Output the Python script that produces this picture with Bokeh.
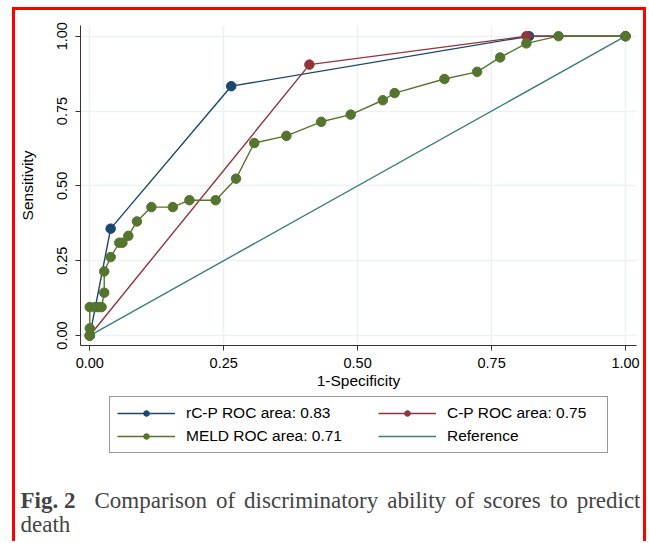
from bokeh.plotting import figure
from bokeh.models import Legend, LegendItem, Label, FixedTicker, Range1d, Div
from bokeh.layouts import row, column
from bokeh.embed import file_html
from bokeh.resources import INLINE

# ---------------- data ----------------
series_names = ["rC-P", "C-P", "MELD"]
series_auc = [0.83, 0.75, 0.71]

rcp_x = [0.0, 0.039, 0.264, 0.820, 1.0]
rcp_y = [0.0, 0.357, 0.833, 1.0, 1.0]

cp_x = [0.0, 0.410, 0.815, 1.0]
cp_y = [0.0, 0.905, 1.0, 1.0]

meld_x = [0.0, 0.0, 0.0, 0.010, 0.016, 0.022, 0.027, 0.027, 0.039, 0.055,
          0.061, 0.072, 0.088, 0.115, 0.155, 0.186, 0.235, 0.273, 0.307, 0.367,
          0.432, 0.487, 0.547, 0.569, 0.662, 0.723, 0.766, 0.815, 0.875, 1.0]
meld_y = [0.0, 0.024, 0.095, 0.095, 0.095, 0.095, 0.143, 0.214, 0.262, 0.310,
          0.310, 0.333, 0.381, 0.429, 0.429, 0.452, 0.452, 0.524, 0.643, 0.667,
          0.714, 0.738, 0.786, 0.810, 0.857, 0.881, 0.929, 0.976, 1.0, 1.0]

ref_x = [0.0, 1.0]
ref_y = [0.0, 1.0]

tick_values = [0.0, 0.25, 0.5, 0.75, 1.0]
tick_labels = ["0.00", "0.25", "0.50", "0.75", "1.00"]

x_title = "1-Specificity"
y_title = "Sensitivity"
ref_name = "Reference"

caption_bold = "Fig. 2"
caption_line1 = ["Comparison", "of", "discriminatory", "ability", "of", "scores", "to", "predict"]
caption_line2 = "death"

# ---------------- style ----------------
NAVY = "#1a476f"
MAROON = "#90353b"
GREEN = "#55752f"
TEAL = "#3a7f7c"
GRID = "#eaf2f3"
AXIS = "#333333"
SANS = "Liberation Sans"
SERIF = "Liberation Serif"
NAN = float("nan")

# page layout (px)
LEFT0, TOP0 = 12, 7          # red frame outer corner
BAR = 3                      # red frame thickness
INNER_W = 628                # width between red side bars
H1 = 386                     # plot figure height
H2 = 145                     # legend + caption figure height

# ---------------- main plot ----------------
p = figure(width=INNER_W, height=H1,
           x_range=Range1d(-0.0173, 1.0205), y_range=Range1d(-0.0333, 1.0357),
           output_backend="svg", toolbar_location=None,
           min_border_left=64, min_border_right=7, min_border_top=15,
           min_border_bottom=H1 - 15 - 320,
           background_fill_color="white", border_fill_color="white")
p.outline_line_color = None
p.frame_align = False

for ax in (p.xaxis[0], p.yaxis[0]):
    ax.ticker = FixedTicker(ticks=tick_values)
    ax.major_label_overrides = {v: s for v, s in zip(tick_values, tick_labels)}
    ax.minor_tick_line_color = None
    ax.major_tick_in = 0
    ax.major_tick_out = 5
    ax.axis_line_color = AXIS
    ax.major_tick_line_color = AXIS
    ax.major_label_text_font = SANS
    ax.major_label_text_font_size = "14.5px"
    ax.major_label_text_color = "black"
    ax.axis_label_text_font = SANS
    ax.axis_label_text_font_size = "15.5px"
    ax.axis_label_text_font_style = "normal"
    ax.axis_label_text_color = "black"

p.xaxis.axis_label = x_title
p.yaxis.axis_label = y_title
p.xaxis.major_label_standoff = 7
p.xaxis.axis_label_standoff = 1
p.yaxis.major_label_standoff = 8
p.yaxis.axis_label_standoff = 19
p.yaxis.major_label_orientation = "vertical"

for g in (p.xgrid[0], p.ygrid[0]):
    g.ticker = FixedTicker(ticks=tick_values)
    g.grid_line_color = GRID
    g.grid_line_width = 1.5

p.line(ref_x, ref_y, line_color=TEAL, line_width=1.4)
p.line(rcp_x, rcp_y, line_color=NAVY, line_width=1.4)
p.scatter(rcp_x, rcp_y, size=9.5, fill_color=NAVY, line_color=NAVY)
p.line(cp_x, cp_y, line_color=MAROON, line_width=1.4)
p.scatter(cp_x, cp_y, size=9.5, fill_color=MAROON, line_color=MAROON)
p.line(meld_x, meld_y, line_color=GREEN, line_width=1.4)
p.scatter(meld_x, meld_y, size=9.5, fill_color=GREEN, line_color=GREEN)

# ---------------- legend + caption panel ----------------
q = figure(width=INNER_W, height=H2, x_range=Range1d(0, 1), y_range=Range1d(0, 1),
           output_backend="svg", toolbar_location=None,
           x_axis_location=None, y_axis_location=None,
           min_border=0, min_border_left=0, min_border_right=0,
           min_border_top=0, min_border_bottom=0,
           background_fill_color="white", border_fill_color="white")
q.outline_line_color = None
q.frame_align = False
q.grid.visible = False

def proxy(color, marker=True):
    # legend-only key glyphs (NaN data: nothing is drawn in the panel itself)
    rs = [q.line(x=[NAN], y=[NAN], line_color=color, line_width=1.4)]
    if marker:
        rs.append(q.scatter(x=[NAN], y=[NAN], size=7, fill_color=color, line_color=color))
    return rs

labels = [f"{n} ROC area: {a:.2f}" for n, a in zip(series_names, series_auc)]

PAD = 7
common = dict(glyph_width=58, glyph_height=14, label_standoff=11, padding=PAD, spacing=5,
              margin=0, label_height=18, label_text_font=SANS, label_text_font_size="15.5px",
              label_text_color="black")

QB = TOP0 + BAR + H1 + H2     # page y of q's bottom edge
QL = LEFT0 + BAR              # page x of q's left edge
LEG_LEFT, LEG_RIGHT, LEG_BOTTOM = 109, 606, 453
COL2_GLYPH = 377

leg_b = Legend(items=[LegendItem(label=labels[1], renderers=proxy(MAROON)),
                      LegendItem(label=ref_name, renderers=proxy(TEAL, marker=False))],
               location=(COL2_GLYPH - PAD - QL, QB - LEG_BOTTOM), label_width=100,
               border_line_color="white", border_line_alpha=0.01,
               background_fill_alpha=0.0, **common)
leg_a = Legend(items=[LegendItem(label=labels[0], renderers=proxy(NAVY)),
                      LegendItem(label=labels[2], renderers=proxy(GREEN))],
               location=(LEG_LEFT - QL, QB - LEG_BOTTOM),
               label_width=(LEG_RIGHT - LEG_LEFT) - 2 * PAD - 58 - 11,
               border_line_color=AXIS, border_line_width=1,
               background_fill_alpha=0.0, **common)
q.add_layout(leg_b)
q.add_layout(leg_a)

cap_x = [94, 215.4, 243.6, 386.8, 454.6, 482.8, 549.3, 640]
base1 = 500
base2 = 524
q.add_layout(Label(x=20 - QL, y=QB - base1, x_units="screen", y_units="screen",
                   text=caption_bold, text_font=SERIF, text_font_size="23px",
                   text_font_style="bold", text_baseline="alphabetic"))
for i, (w, xx) in enumerate(zip(caption_line1, cap_x)):
    q.add_layout(Label(x=xx - QL, y=QB - base1, x_units="screen", y_units="screen",
                       text=w, text_font=SERIF, text_font_size="23px",
                       text_align="right" if i == len(caption_line1) - 1 else "left",
                       text_baseline="alphabetic"))
q.add_layout(Label(x=20 - QL, y=QB - base2, x_units="screen", y_units="screen",
                   text=caption_line2, text_font=SERIF, text_font_size="23px",
                   text_baseline="alphabetic"))

# ---------------- red frame ----------------
def bar(w, h):
    return Div(text="", width=w, height=h, margin=0,
               styles={"background-color": "red"})

side_h = BAR + H1 + H2
root = row(bar(BAR, side_h),
           column(bar(INNER_W, BAR), p, q, spacing=0, margin=0),
           bar(BAR, side_h),
           spacing=0, margin=(TOP0, 0, 0, LEFT0))

open("out.html", "w").write(file_html(root, INLINE))
